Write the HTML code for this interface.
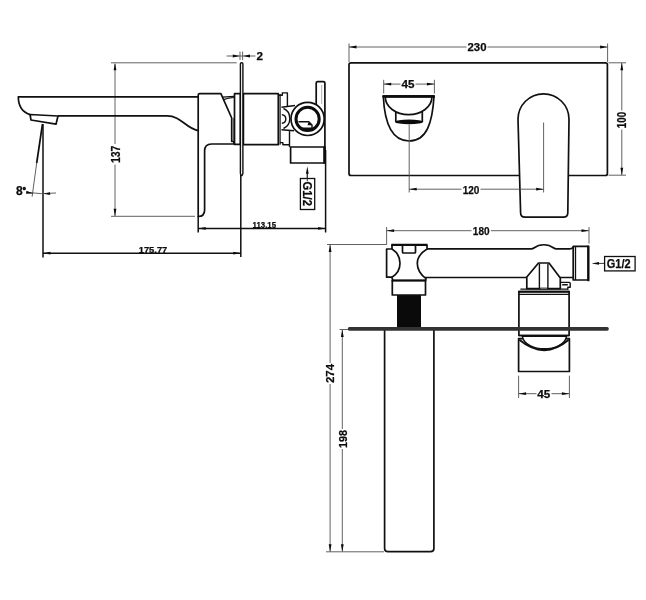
<!DOCTYPE html>
<html><head><meta charset="utf-8">
<style>
html,body{margin:0;padding:0;background:#fff;}
svg{display:block;will-change:transform;filter:grayscale(1);}
text{font-family:"Liberation Sans",sans-serif;font-weight:bold;fill:#0c0c0c;stroke:#0c0c0c;stroke-width:0.25;}
.o{fill:none;stroke:#101010;stroke-width:1.7;stroke-linejoin:round;stroke-linecap:butt;}
.w{fill:#fff;stroke:#101010;stroke-width:1.7;stroke-linejoin:round;stroke-linecap:butt;}
.t{fill:none;stroke:#101010;stroke-width:1.2;stroke-linejoin:round;}
.k{fill:none;stroke:#0c0c0c;stroke-width:2.3;stroke-linecap:butt;}
.m{fill:none;stroke:#101010;stroke-width:1.5;}
.d{fill:none;stroke:#505050;stroke-width:0.9;}
.a{fill:#0c0c0c;stroke:none;}
</style></head>
<body>
<svg width="646" height="600" viewBox="0 0 646 600">
<rect width="646" height="600" fill="#fff"/>

<!-- ================= SIDE VIEW ================= -->
<g id="side">
<!-- dims -->
<path class="d" d="M111,62.8H236.7M111,216.3H195M115,64V216"/>
<path class="a" d="M115,62.8l-1.4,7.5h2.8zM115,216.3l-1.4,-7.5h2.8z"/>
<rect x="109" y="144" width="12" height="20.5" fill="#fff"/>
<text transform="translate(120,154.3) rotate(-90)" font-size="12.5" text-anchor="middle" textLength="17.5" lengthAdjust="spacingAndGlyphs">137</text>

<path class="d" d="M226.5,56H255.5M240,51.6V60M242.6,51.6V60"/>
<path class="a" d="M239.8,56l-7,-1.4v2.8zM243,56l7,-1.4v2.8z"/>
<text x="259.7" y="60" font-size="11.6" text-anchor="middle" textLength="6.5" lengthAdjust="spacingAndGlyphs">2</text>

<path class="m" d="M43,124V257.5M43,253.2H240.8M240.8,175V257M198.2,216V232.5M198.2,228.4H325.6M325.6,150V232.5"/>
<path class="a" d="M43,253.2l7.5,-1.4v2.8zM240.8,253.2l-7.5,-1.4v2.8zM198.2,228.4l7.5,-1.4v2.8zM325.6,228.4l-7.5,-1.4v2.8z"/>
<text x="153" y="252.6" font-size="8.6" text-anchor="middle" textLength="28.5" lengthAdjust="spacingAndGlyphs">175.77</text>
<text x="264.3" y="227.7" font-size="8.6" text-anchor="middle" textLength="23.5" lengthAdjust="spacingAndGlyphs">113.15</text>

<!-- angle -->
<path class="k" style="stroke-width:1.7" d="M42.5,124L36.7,163"/>
<path class="d" d="M36.7,163L32.1,196.7M26.5,192.3Q41,194.6 56,193"/>
<path class="a" d="M33.6,193.4l-7.2,-2.6l-0.3,2.9zM43.4,193.8l6.6,-1.6l0.2,2.8z"/>
<text x="15.9" y="195" font-size="12">8<tspan font-size="7.5" dy="-2.1" dx="0.2" style="stroke-width:0.9">°</tspan></text>

<!-- spout -->
<path class="o" d="M198,96.8H18.3C18.3,105 22,112 30,114.6M58,115.9H167C181,115.9 185,127.5 198,130.7"/>
<path class="w" d="M30,114.5L58,116L56,124.2L31,120z"/>

<!-- handle -->
<path class="w" d="M198.2,216.5V95.2Q198.2,93.7 199.7,93.7H220.9L231.7,118V141.3H233.9V144H211.5Q204.6,144 204.6,151V210Q204.6,216.5 198.2,216.5z"/>
<path class="t" d="M222.3,97.1L234,96.3M223.4,99.6Q228,97.8 234,97.5"/>
<path d="M233.4,118V141" stroke="#777" stroke-width="1.4" fill="none"/>
<!-- ring -->
<path class="w" d="M234.5,93.7H240.4V144.4H234.5z"/>
<!-- body -->
<path class="w" d="M243.4,93.7H278.3V144.7H243.4z"/>
<path class="t" d="M280.1,94V144.7"/>
<!-- plate -->
<path d="M240.4,63.8Q240.4,62.7 241.65,62.7Q242.9,62.7 242.9,63.8V173.5L242.1,175.5H241.2L240.4,173.5z" fill="#fff" stroke="#101010" stroke-width="1.4" stroke-linejoin="round"/>
<!-- step -->
<path class="t" style="stroke-width:1.4" d="M278.3,95.3H282.3V92.9H287.4V106.5M280.1,142.6H282.9V144.7H289.5"/>
<!-- connector -->
<path class="t" style="stroke-width:1.4" d="M281.5,107.3L295,105.5M281.5,129.8L294,130.8M289.5,131V147M281.8,114.6Q285.8,115.2 285.8,118.9Q285.8,122.6 281.8,123.3M283.5,108.5Q289.8,111 289.8,118.6Q289.8,126 283.5,128.5"/>
<!-- bracket -->
<path class="w" d="M316.2,106V83.1Q316.2,81.6 317.7,81.6H323.4Q324.9,81.6 324.9,83.1V163H290.6V147H325"/>
<path d="M321.7,85V104" stroke="#999" stroke-width="0.8" fill="none"/>
<path class="k" style="stroke-width:2.6" d="M324.5,146.5V163.6"/>
<!-- circle -->
<circle class="w" cx="307.6" cy="118.9" r="16.6"/>
<circle class="k" style="stroke-width:3" cx="307.6" cy="118.9" r="11.6"/>
<path class="t" style="stroke-width:1.4" d="M298.5,121.8H308.8L312,124.9V128.2H301"/>
<path class="a" d="M308.8,121.8L312.4,125.2H307.5z"/>
<!-- G1/2 -->
<path class="d" style="stroke:#222" d="M307.3,181V172"/>
<rect x="300.4" y="178.5" width="14.3" height="31" fill="#fff" stroke="#101010" stroke-width="1.3"/>
<path class="d" style="stroke:#222" d="M307.3,181V172"/>
<path class="a" d="M307.3,166.3l-1.4,7.4h2.8z"/>
<text transform="translate(303,193.8) rotate(90)" font-size="12.3" text-anchor="middle" textLength="24.5" lengthAdjust="spacingAndGlyphs">G1/2</text>
</g>

<!-- ================= FRONT VIEW ================= -->
<g id="front">
<path class="d" d="M349,43.5V62M607.6,43.5V62M349,47H607.6"/>
<path class="a" d="M349,47l7.5,-1.4v2.8zM607.6,47l-7.5,-1.4v2.8z"/>
<rect x="466.5" y="42" width="21" height="10" fill="#fff"/>
<text x="477" y="51.3" font-size="11.5" text-anchor="middle" textLength="19" lengthAdjust="spacingAndGlyphs">230</text>

<rect class="o" x="349" y="62.8" width="258.4" height="112.7" rx="2"/>
<path class="d" d="M608.5,62.8H626M608.5,175.2H626M621.8,63V175"/>
<path class="a" d="M621.8,62.8l-1.4,7.5h2.8zM621.8,175.2l-1.4,-7.5h2.8z"/>
<rect x="616" y="110.5" width="12" height="19" fill="#fff"/>
<text transform="translate(626.3,120) rotate(-90)" font-size="12" text-anchor="middle" textLength="16.4" lengthAdjust="spacingAndGlyphs">100</text>

<!-- 45 -->
<path class="d" d="M383.7,79.8V93.5M434.4,79.8V93.5M383.7,84.1H434.4"/>
<path class="a" d="M383.7,84.1l7.5,-1.4v2.8zM434.4,84.1l-7.5,-1.4v2.8z"/>
<rect x="400.5" y="79" width="15" height="10" fill="#fff"/>
<text x="408" y="88" font-size="11.2" text-anchor="middle" textLength="13" lengthAdjust="spacingAndGlyphs">45</text>

<!-- spout front -->
<path class="w" d="M383.3,96.3C384.5,122 391,141 409,141C427,141 432.5,122 434,96.3z"/>
<path class="k" style="stroke-width:2.2" d="M382.6,96.4H434.7"/>
<path class="o" d="M395.8,112V122M422.3,112V122"/>
<ellipse cx="409" cy="121.9" rx="13.8" ry="2.3" fill="#0c0c0c"/>
<path class="w" d="M385.3,97A23.3,17.7 0 0 0 431.9,97z"/>
<path class="k" style="stroke-width:2.2" d="M382.6,96.4H434.7"/>
<path class="d" d="M409.2,124.5V192.5M409.2,189.2H519"/>
<path class="a" d="M409.2,189.2l7.5,-1.4v2.8z"/>

<!-- handle front -->
<path class="w" d="M518,119.3A25.5,25.5 0 0 1 569,119.3L567.8,212.7Q567.8,217.1 563.4,217.1H525Q520.6,217.1 520.6,212.7z"/>
<path class="d" d="M543.6,122.5V192.5M519.5,189.2H543.6"/>
<path class="a" d="M543.6,189.2l-7.5,-1.4v2.8z"/>
<rect x="461.5" y="184.5" width="19" height="10" fill="#fff"/>
<text x="471" y="193.5" font-size="11.2" text-anchor="middle" textLength="16.7" lengthAdjust="spacingAndGlyphs">120</text>
</g>

<!-- ================= TOP VIEW ================= -->
<g id="top">
<path class="d" d="M386.6,227V245M589,227V243.6M386.6,230.7H589"/>
<path class="a" d="M386.6,230.7l7.5,-1.4v2.8zM589,230.7l-7.5,-1.4v2.8z"/>
<rect x="471.5" y="226" width="19.5" height="10" fill="#fff"/>
<text x="481.2" y="234.8" font-size="11" text-anchor="middle" textLength="16.7" lengthAdjust="spacingAndGlyphs">180</text>

<path class="d" d="M327,244.5H386M326,551.8H384M330.1,245V551.5M339.5,329.5H348M342.3,330V551.5"/>
<path class="a" d="M330.1,244.5l-1.4,7.5h2.8zM330.1,551.8l-1.4,-7.5h2.8zM342.3,329.5l-1.4,7.5h2.8zM342.3,551.8l-1.4,-7.5h2.8z"/>
<rect x="325" y="363" width="11" height="21" fill="#fff"/>
<text transform="translate(334.4,373.5) rotate(-90)" font-size="11.5" text-anchor="middle" textLength="19" lengthAdjust="spacingAndGlyphs">274</text>
<rect x="337" y="429" width="11" height="20" fill="#fff"/>
<text transform="translate(346.6,439) rotate(-90)" font-size="11.5" text-anchor="middle" textLength="18" lengthAdjust="spacingAndGlyphs">198</text>

<!-- spout -->
<path class="o" d="M384.6,330V548.5Q384.6,551.7 388,551.7H430.5Q433.9,551.7 433.9,548.5V330"/>
<!-- thread -->
<rect x="397" y="295" width="24" height="33" fill="#0a0a0a"/>

<!-- pipe -->
<path class="o" d="M426,248.9H531.3Q532.8,248.9 533.8,248A17,17 0 0 1 553.8,248Q554.8,248.9 556.3,248.9H569.5Q572,248.9 573.4,246.9M425,277.5H527M560,277.5H573.4"/>
<!-- end fitting -->
<path class="w" d="M573.2,246.4H588.2V280H573.2z"/>
<path class="t" style="stroke-width:1.3" d="M575.5,247V280"/>
<path class="k" style="stroke-width:2.2" d="M588.4,245.6V281.2"/>
<!-- G1/2 -->
<path class="d" style="stroke:#222" d="M597,263.4H604.5"/>
<path class="a" d="M591.6,263.4l7.4,-1.4v2.8z"/>
<rect x="604.6" y="256.5" width="30.5" height="14.4" fill="#fff" stroke="#101010" stroke-width="1.3"/>
<text x="618.7" y="267.7" font-size="12" text-anchor="middle" textLength="23.8" lengthAdjust="spacingAndGlyphs">G1/2</text>

<!-- T fitting -->
<path d="M392,245H427V249Q417.3,255 417.3,263.5Q417.3,272 426,278.7V280H392z" fill="#fff"/>
<path class="o" d="M427,245V249Q417.3,255 417.3,263.5Q417.3,272 426,278.7L425.5,280.5"/>
<path class="o" d="M392,245V249H386.6V277.2H391.7L393,280.5"/>
<path class="o" d="M392,249Q400,254 400,263.2Q400,272 392,277.3"/>
<path class="k" style="stroke-width:2.2" d="M391.2,244.9H427.6"/>
<rect class="o" x="402.5" y="245" width="13" height="8" rx="1"/>
<!-- nut -->
<path class="w" d="M392.3,280.5H425.5V295H392.3z"/>
<path class="k" style="stroke-width:2" d="M391.6,280.5H426.2"/>

<!-- valve trapezoid -->
<path class="w" d="M526.8,288.6V277L538.5,263H549L560.3,278V288.6z"/>
<path class="t" style="stroke-width:1.4" d="M539.4,263.5V288.6M547.9,263.5V288.6"/>
<path class="t" style="stroke-width:1.4" d="M560.4,282.4H569.2Q570.2,282.4 570.2,283.4V287.2H567.8V290M562.2,284.8H567.8"/>
<!-- cartridge -->
<path class="w" d="M518.9,291.5H569.1V335.5H518.9z"/>
<path class="k" style="stroke-width:1.9" d="M518.2,291.7H569.8"/>
<path class="t" style="stroke-width:1.2" d="M519,294.4H569M520.4,289.2H567"/>
<path d="M540.4,288.3H547" stroke="#777" stroke-width="1.2" fill="none"/>
<!-- plate -->
<rect x="347.8" y="327.1" width="261" height="3.6" rx="1.6" fill="#333"/>
<!-- handle top -->
<path class="w" d="M518.6,338.6H569.4V371.5H518.6z"/>
<path d="M522.3,336.3C524,345 535,348.7 544.4,348.7C554,348.7 565,345 566.5,336.3z" fill="#fff" stroke="#101010" stroke-width="1.4"/>
<path class="o" style="stroke-width:2" d="M519.3,339.8Q544.4,360.4 568.7,339.8"/>
<path class="o" d="M518.9,335.5H569.1"/>

<!-- 45 bottom -->
<path class="d" d="M518.6,375.7V398M569.4,375.7V398M518.6,393.7H569.4"/>
<path class="a" d="M518.6,393.7l7.5,-1.4v2.8zM569.4,393.7l-7.5,-1.4v2.8z"/>
<rect x="536.5" y="388.5" width="15" height="10" fill="#fff"/>
<text x="543.8" y="397.7" font-size="11.2" text-anchor="middle" textLength="13" lengthAdjust="spacingAndGlyphs">45</text>
</g>
</svg>
</body></html>
